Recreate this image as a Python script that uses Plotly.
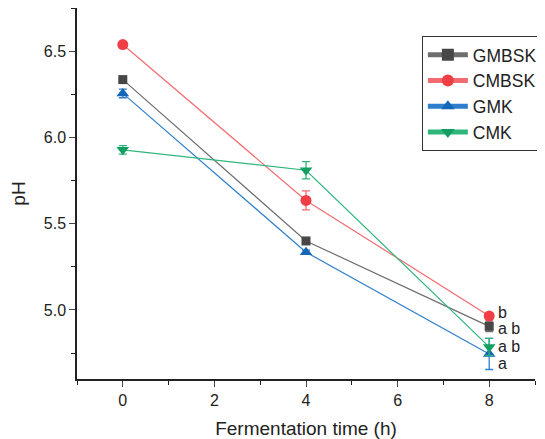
import plotly.graph_objects as go

time_h = [0, 4, 8]
series_names = ["GMBSK", "CMBSK", "GMK", "CMK"]
gmbsk = [6.335, 5.40, 4.905]
cmbsk = [6.538, 5.635, 4.965]
gmk = [6.255, 5.335, 4.745]
cmk = [5.928, 5.81, 4.786]
gmbsk_err = [0.012, 0.012, 0.03]
cmbsk_err = [0.01, 0.055, 0.015]
gmk_err = [0.025, 0.012, 0.09]
cmk_err = [0.025, 0.05, 0.05]
labels_at_8 = ["a b", "b", "a", "a b"]
label_y_pos = [4.895, 4.985, 4.69, 4.79]

values = [gmbsk, cmbsk, gmk, cmk]
errors = [gmbsk_err, cmbsk_err, gmk_err, cmk_err]
marker_colors = ["#474747", "#ef3e45", "#1466b8", "#139e62"]
line_colors = ["#6e6e6e", "#f26b70", "#2f7fcc", "#2fb67b"]
symbols = ["square", "circle", "triangle-up", "triangle-down"]
sizes = [9, 11, 11, 11]

fig = go.Figure()
for name, v, e, mc, lc, s, sz in zip(series_names, values, errors, marker_colors, line_colors, symbols, sizes):
    fig.add_trace(go.Scatter(
        x=time_h, y=v, name=name, mode="lines+markers",
        line=dict(color=lc, width=1.2),
        marker=dict(color=mc, symbol=s, size=sz),
        error_y=dict(type="data", array=e, visible=True, color=lc, thickness=1.3, width=4),
    ))

for lab, yv in zip(labels_at_8, label_y_pos):
    fig.add_annotation(x=8, y=yv, text=lab, showarrow=False, xanchor="left",
                       xshift=7, font=dict(size=16, color="#222"))

# page body adds an 8px offset; figure is sized so the visible window matches
fig.update_layout(
    width=537, height=431,
    margin=dict(l=69, r=10, t=0, b=60),
    paper_bgcolor="white", plot_bgcolor="white",
    font=dict(family="Liberation Sans, Arial, sans-serif", color="#222"),
    showlegend=True,
    legend=dict(x=0.753, y=0.925, xanchor="left", yanchor="top",
                bordercolor="#333", borderwidth=1, bgcolor="white",
                font=dict(size=17.5), tracegroupgap=0, itemwidth=40,
                itemsizing="constant"),
)
fig.update_xaxes(range=[-1, 9], tickvals=[0, 2, 4, 6, 8], ticks="outside", ticklen=6,
                 automargin=False,
                 showline=True, linecolor="#222", linewidth=1.5, showgrid=False, zeroline=False,
                 minor=dict(tickvals=[-1, 1, 3, 5, 7, 9], ticks="outside", ticklen=4, tickcolor="#222"),
                 tickfont=dict(size=16), title=dict(text="Fermentation time (h)", font=dict(size=19)))
fig.update_yaxes(range=[4.6, 6.75], tickvals=[5.0, 5.5, 6.0, 6.5], ticktext=["5.0", "5.5", "6.0", "6.5"],
                 ticks="outside", ticklen=6, automargin=False,
                 showline=True, linecolor="#222", linewidth=1.5, showgrid=False, zeroline=False,
                 minor=dict(tickvals=[4.75, 5.25, 5.75, 6.25, 6.75], ticks="outside", ticklen=4, tickcolor="#222"),
                 tickfont=dict(size=16), title=dict(text="pH", font=dict(size=19)))

fig.write_html("out.html")
